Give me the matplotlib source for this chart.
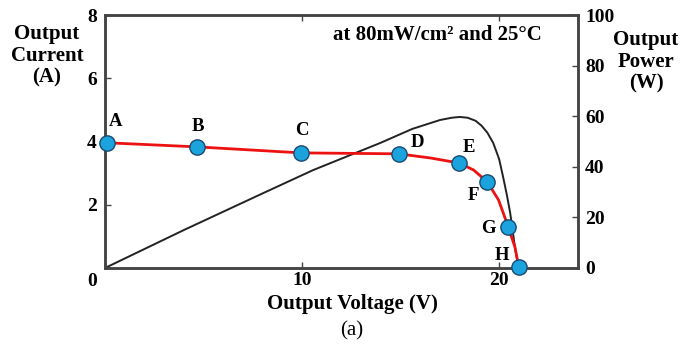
"""
I-V and P-V curve of the PV module
"""
import matplotlib.pyplot as plt

plt.rcParams['font.family'] = ['Liberation Serif', 'DejaVu Serif']
plt.rcParams['font.weight'] = 'bold'

# operating points A-H (voltage V, current A)
point_labels = ['A', 'B', 'C', 'D', 'E', 'F', 'G', 'H']
point_v = [0.1, 4.67, 9.95, 14.9, 17.96, 19.4, 20.46, 21.0]
point_i = [3.96, 3.83, 3.64, 3.61, 3.32, 2.72, 1.30, 0.03]

# red I-V curve
iv_v = [0.1, 4.67, 9.95, 14.9, 16.5, 17.96, 18.7, 19.4, 19.97, 20.46, 20.8, 21.0]
iv_i = [3.96, 3.83, 3.64, 3.61, 3.48, 3.32, 3.10, 2.72, 2.15, 1.30, 0.66, 0.03]

# black P-V curve (W)
pv_v = [0.0, 4.0, 8.0, 10.56, 13.96, 15.6, 17.0, 17.6, 18.0, 18.4, 18.8, 19.1, 19.4,
        19.7, 20.0, 20.2, 20.4, 20.56, 20.8, 20.97]
pv_p = [0.0, 15.0, 29.5, 38.7, 49.4, 55.0, 58.5, 59.4, 59.7, 59.4, 58.2, 56.3, 53.5,
        49.4, 43.0, 36.0, 28.5, 21.7, 8.3, 0.4]

# label offsets in points
label_offsets = [(6.5, 15), (0.7, 14.5), (0.7, 16), (13.7, 8), (7, 11),
                 (-10, -10), (-14.4, -1.4), (-12, 8.6)]

fig = plt.figure(figsize=(6.86, 3.49), dpi=100)
ax = fig.add_axes([105 / 686, 81 / 349, 473 / 686, 253 / 349])
ax2 = ax.twinx()

spine_col = '#444444'
for a in (ax, ax2):
    for s in a.spines.values():
        s.set_color(spine_col)
        s.set_linewidth(1.8)

ax.set_xlim(0, 24)
ax.set_ylim(0, 8)
ax2.set_ylim(0, 100)

ax2.plot(pv_v, pv_p, color='#222222', lw=1.4, zorder=2)
ax.plot(iv_v, iv_i, color='#ee1111', lw=2.0, zorder=3)
ax.plot(point_v, point_i, 'o', color='#1aa3dd', markeredgecolor='#1a4a70',
        markeredgewidth=1.0, markersize=11, zorder=5, clip_on=False)
ax.set_zorder(ax2.get_zorder() + 1)
ax.patch.set_visible(False)

for lab, v, i, off in zip(point_labels, point_v, point_i, label_offsets):
    ax.annotate(lab, (v, i), xytext=off, textcoords='offset points',
                ha='center', va='center', fontsize=13.5, fontweight='bold')

ax.set_xticks([0, 10, 20])
ax.set_xticklabels(['', '10', '20'])
ax.set_yticks([0, 2, 4, 6, 8])
ax.set_yticklabels(['', '2', '4', '6', '8'])
ax.tick_params(direction='in', length=4, width=1, color=spine_col,
               labelsize=14, pad=6, top=True)
ax.tick_params(axis='x', pad=3)
ax2.set_yticks([0, 20, 40, 60, 80, 100])
ax2.tick_params(direction='in', length=4, width=1, color=spine_col,
                labelsize=14, pad=5)
for t in ax.get_xticklabels() + ax.get_yticklabels() + ax2.get_yticklabels():
    t.set_fontweight('bold')

fig.text(92 / 686, 1 - 281 / 349, '0', ha='center', va='center', fontsize=14, fontweight='bold')

fig.text(47 / 686, 1 - 56 / 349, 'Output\nCurrent\n(A)', ha='center', va='center',
         fontsize=15, fontweight='bold', linespacing=1.12)
fig.text(646 / 686, 1 - 62 / 349, 'Output\nPower\n(W)', ha='center', va='center',
         fontsize=15, fontweight='bold', linespacing=1.12)
fig.text(437 / 686, 1 - 35 / 349, 'at 80mW/cm\u00b2 and 25\u00b0C', ha='center', va='center',
         fontsize=15, fontweight='bold')
fig.text(352 / 686, 1 - 304 / 349, 'Output Voltage (V)', ha='center', va='center',
         fontsize=15, fontweight='bold')
fig.text(352 / 686, 1 - 331 / 349, '(a)', ha='center', va='center',
         fontsize=15, fontweight='normal')

plt.savefig('out.png', dpi=100)
